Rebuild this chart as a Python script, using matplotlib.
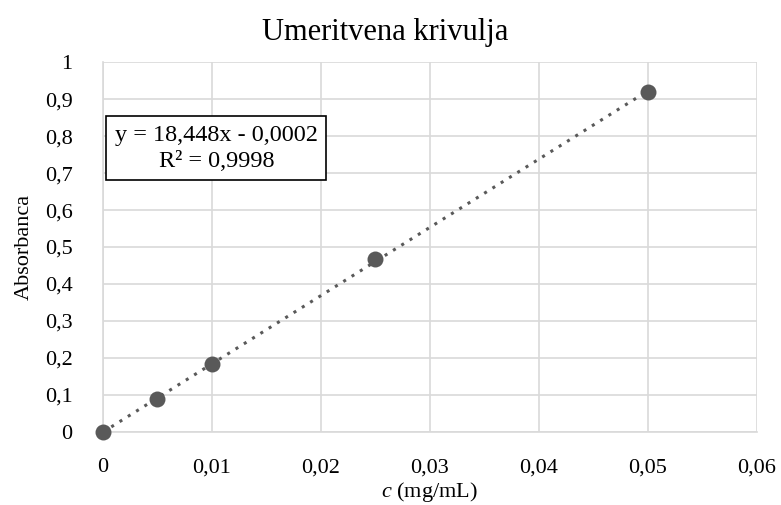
import matplotlib
matplotlib.use('Agg')
import matplotlib.pyplot as plt
import numpy as np

# data
conc = [0, 0.005, 0.01, 0.025, 0.05]
absorb = [0.0, 0.088, 0.183, 0.468, 0.918]
slope = 18.448
intercept = -0.0002
r2 = 0.9998

x_ticks = [0, 0.01, 0.02, 0.03, 0.04, 0.05, 0.06]
y_ticks = [0, 0.1, 0.2, 0.3, 0.4, 0.5, 0.6, 0.7, 0.8, 0.9, 1.0]

plt.rcParams['font.family'] = ['Liberation Serif', 'DejaVu Serif']
plt.rcParams['mathtext.fontset'] = 'custom'
plt.rcParams['mathtext.it'] = 'Liberation Serif:italic'
plt.rcParams['mathtext.rm'] = 'Liberation Serif'

fig = plt.figure(figsize=(7.81, 5.05), dpi=100)
ax = fig.add_axes([0.1319, 0.1446, 0.969 - 0.1319, 0.877 - 0.1446])

grid_col = '#d9d9d9'
pt_col = '#595959'

# trendline
xs = np.array([conc[0], conc[-1]])
ax.plot(xs, slope * xs + intercept, linestyle=(0, (1, 2.2)), color=pt_col,
        linewidth=2.2, zorder=2)
ax.plot(conc, absorb, 'o', color=pt_col, markersize=11.5, zorder=3,
        markeredgewidth=0, clip_on=False)

ax.set_xlim(0, 0.06)
ax.set_ylim(0, 1)
ax.set_xticks(x_ticks)
ax.set_yticks(y_ticks)


def fmt(v):
    s = ('%.2f' % v).rstrip('0').rstrip('.') if v != 0 else '0'
    return s.replace('.', ',')


ax.set_xticklabels([fmt(v) for v in x_ticks])
ax.set_yticklabels([('%.1f' % v).rstrip('0').rstrip('.').replace('.', ',') if v else '0'
                    for v in y_ticks])
ax.tick_params(axis='both', length=0, labelsize=16, colors='#000000')
ax.tick_params(axis='x', pad=19)
ax.tick_params(axis='y', pad=22)

ax.grid(True, color=grid_col, linewidth=1.2)
ax.set_axisbelow(True)
for side in ['top', 'right']:
    ax.spines[side].set_visible(False)
for side in ['left', 'bottom']:
    ax.spines[side].set_color(grid_col)
    ax.spines[side].set_linewidth(1.2)

fig.text(0.493, 0.935, 'Umeritvena krivulja', fontsize=22, ha='center',
         va='center')
ax.set_xlabel('$c$ (mg/mL)', fontsize=16, labelpad=2)
ax.set_ylabel('Absorbanca', fontsize=16, labelpad=8)

eq = 'y = %sx - %s\nR² = %s' % (str(slope).replace('.', ','),
                                ('%.4f' % abs(intercept)).replace('.', ','),
                                str(r2).replace('.', ','))
ax.text(0.0104, 0.767, eq, fontsize=17.5, ha='center', va='center',
        linespacing=1.3,
        bbox=dict(boxstyle='square,pad=0.35', facecolor='white',
                  edgecolor='black', linewidth=1.2))

fig.savefig('out.png', dpi=100)
